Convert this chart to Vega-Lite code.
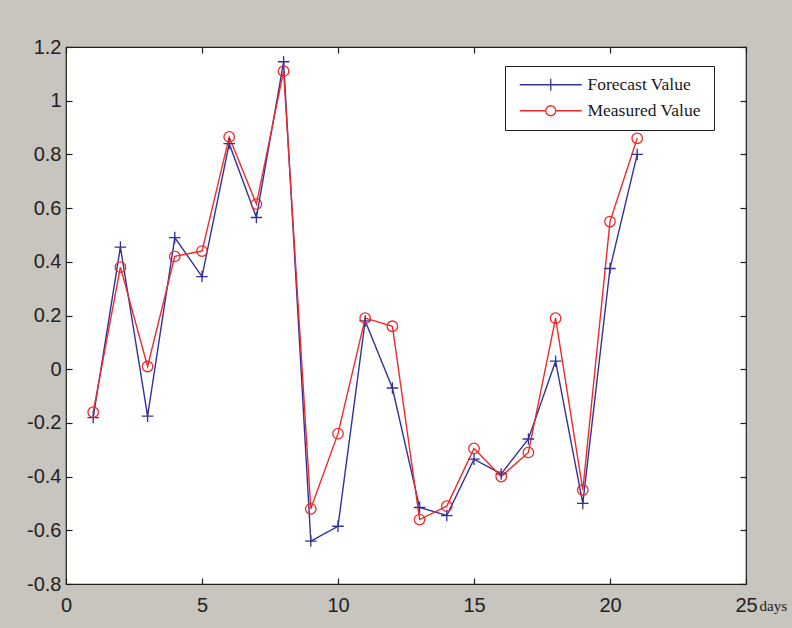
{
  "$schema": "https://vega.github.io/schema/vega-lite/v6.json",
  "width": 680,
  "height": 537,
  "autosize": {"type": "none"},
  "padding": {"left": 66, "top": 47, "right": 46, "bottom": 44},
  "background": "#c8c4be",
  "config": {
    "view": {"fill": "white", "stroke": "#1e1e1e", "strokeWidth": 1.2},
    "axis": {
      "grid": false,
      "domain": false,
      "tickColor": "#1e1e1e",
      "tickWidth": 1.2,
      "tickSize": -6,
      "labelFont": "Liberation Sans",
      "labelFontSize": 20,
      "labelColor": "#222222",
      "labelFlush": false,
      "labelOverlap": false,
      "labelBound": false
    },
    "legend": {
      "title": null,
      "orient": "none",
      "legendX": 439,
      "legendY": 19,
      "strokeColor": "#1e1e1e",
      "fillColor": "white",
      "padding": 10,
      "labelFont": "Liberation Serif",
      "labelFontSize": 17.5,
      "labelColor": "#1a1a1a",
      "labelOffset": 55,
      "labelLimit": 300,
      "rowPadding": 7,
      "symbolSize": 144,
      "symbolOpacity": 1,
      "symbolStrokeWidth": 1.3
    }
  },
  "data": {
    "values": [
      {"day": 1, "value": -0.18, "series": "Forecast Value"},
      {"day": 2, "value": 0.455, "series": "Forecast Value"},
      {"day": 3, "value": -0.175, "series": "Forecast Value"},
      {"day": 4, "value": 0.49, "series": "Forecast Value"},
      {"day": 5, "value": 0.345, "series": "Forecast Value"},
      {"day": 6, "value": 0.84, "series": "Forecast Value"},
      {"day": 7, "value": 0.565, "series": "Forecast Value"},
      {"day": 8, "value": 1.145, "series": "Forecast Value"},
      {"day": 9, "value": -0.64, "series": "Forecast Value"},
      {"day": 10, "value": -0.585, "series": "Forecast Value"},
      {"day": 11, "value": 0.18, "series": "Forecast Value"},
      {"day": 12, "value": -0.07, "series": "Forecast Value"},
      {"day": 13, "value": -0.515, "series": "Forecast Value"},
      {"day": 14, "value": -0.545, "series": "Forecast Value"},
      {"day": 15, "value": -0.335, "series": "Forecast Value"},
      {"day": 16, "value": -0.39, "series": "Forecast Value"},
      {"day": 17, "value": -0.26, "series": "Forecast Value"},
      {"day": 18, "value": 0.03, "series": "Forecast Value"},
      {"day": 19, "value": -0.5, "series": "Forecast Value"},
      {"day": 20, "value": 0.375, "series": "Forecast Value"},
      {"day": 21, "value": 0.8, "series": "Forecast Value"},
      {"day": 1, "value": -0.16, "series": "Measured Value"},
      {"day": 2, "value": 0.38, "series": "Measured Value"},
      {"day": 3, "value": 0.01, "series": "Measured Value"},
      {"day": 4, "value": 0.42, "series": "Measured Value"},
      {"day": 5, "value": 0.44, "series": "Measured Value"},
      {"day": 6, "value": 0.865, "series": "Measured Value"},
      {"day": 7, "value": 0.615, "series": "Measured Value"},
      {"day": 8, "value": 1.11, "series": "Measured Value"},
      {"day": 9, "value": -0.52, "series": "Measured Value"},
      {"day": 10, "value": -0.24, "series": "Measured Value"},
      {"day": 11, "value": 0.19, "series": "Measured Value"},
      {"day": 12, "value": 0.16, "series": "Measured Value"},
      {"day": 13, "value": -0.56, "series": "Measured Value"},
      {"day": 14, "value": -0.51, "series": "Measured Value"},
      {"day": 15, "value": -0.295, "series": "Measured Value"},
      {"day": 16, "value": -0.4, "series": "Measured Value"},
      {"day": 17, "value": -0.31, "series": "Measured Value"},
      {"day": 18, "value": 0.19, "series": "Measured Value"},
      {"day": 19, "value": -0.45, "series": "Measured Value"},
      {"day": 20, "value": 0.55, "series": "Measured Value"},
      {"day": 21, "value": 0.86, "series": "Measured Value"}
    ]
  },
  "resolve": {"axis": {"x": "independent", "y": "independent"}},
  "layer": [
    {
      "mark": {"type": "line", "strokeWidth": 1.4},
      "encoding": {
        "x": {
          "field": "day", "type": "quantitative",
          "scale": {"domain": [0, 25], "nice": false, "zero": false},
          "axis": {
            "values": [0, 5, 10, 15, 20, 25],
            "labelPadding": 17,
            "title": "days",
            "titleFont": "Liberation Serif",
            "titleFontSize": 15,
            "titleFontWeight": "normal",
            "titleColor": "#222222",
            "titleAlign": "left",
            "titleBaseline": "middle",
            "titleAnchor": "start",
            "titleX": 693,
            "titleY": 21
          }
        },
        "y": {
          "field": "value", "type": "quantitative",
          "scale": {"domain": [-0.8, 1.2], "nice": false, "zero": false},
          "axis": {
            "values": [-0.8, -0.6, -0.4, -0.2, 0, 0.2, 0.4, 0.6, 0.8, 1, 1.2],
            "labelExpr": "'' + round(datum.value * 10) / 10",
            "labelPadding": 11,
            "title": null
          }
        },
        "color": {
          "field": "series", "type": "nominal",
          "scale": {"domain": ["Forecast Value", "Measured Value"], "range": ["#32329a", "#ee2a2a"]}
        }
      }
    },
    {
      "mark": {"type": "point", "filled": false, "strokeWidth": 1.3, "size": 110, "opacity": 1},
      "encoding": {
        "x": {"field": "day", "type": "quantitative", "axis": null},
        "y": {"field": "value", "type": "quantitative", "axis": null},
        "color": {"field": "series", "type": "nominal"},
        "shape": {
          "condition": {"test": "datum.series === 'Forecast Value'", "value": "M-1.1,0H1.1M0,-1.1V1.1"},
          "value": "circle"
        }
      }
    },
    {
      "mark": {"type": "point", "filled": false, "strokeWidth": 1.3, "size": 144, "opacity": 0},
      "encoding": {
        "x": {
          "field": "day", "type": "quantitative",
          "axis": {"orient": "top", "values": [0, 5, 10, 15, 20, 25], "labels": false, "title": null}
        },
        "y": {
          "field": "value", "type": "quantitative",
          "axis": {"orient": "right", "values": [-0.8, -0.6, -0.4, -0.2, 0, 0.2, 0.4, 0.6, 0.8, 1, 1.2], "labels": false, "title": null}
        },
        "color": {"field": "series", "type": "nominal"},
        "shape": {
          "field": "series", "type": "nominal",
          "scale": {
            "domain": ["Forecast Value", "Measured Value"],
            "range": [
              "M-0.67,0H9.67M4.5,-1V1M29.5,0",
              "M-0.67,0H3.67M5.33,0H9.67M5.33,0A0.83,0.83 0 1,1 3.67,0A0.83,0.83 0 1,1 5.33,0M29.5,0"
            ]
          }
        }
      }
    }
  ]
}
